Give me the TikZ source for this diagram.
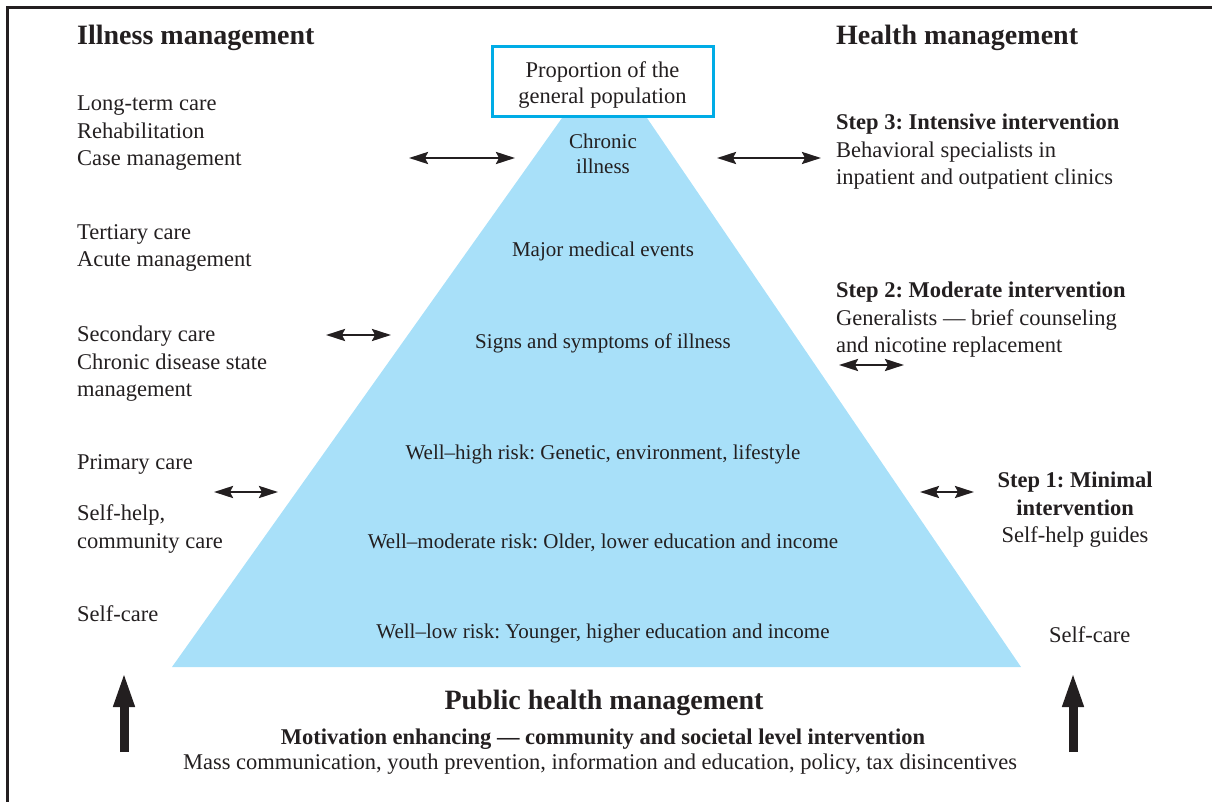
\documentclass[tikz,border=0pt]{standalone}
\usepackage{fontspec}
\setmainfont{Liberation Serif}
\usetikzlibrary{arrows.meta}
\frenchspacing
\definecolor{pyrblue}{RGB}{168,224,249}
\definecolor{popcyan}{RGB}{0,172,230}
\definecolor{ink}{RGB}{35,31,32}
\tikzset{
  sidetext/.style={anchor=north west, inner sep=0pt, align=left, text=ink, font=\fontsize{22.5}{27.5}\selectfont},
  sideline/.style={sidetext, anchor=base west},
  headtext/.style={anchor=base west, inner sep=0pt, text=ink, font=\fontsize{28}{32}\selectfont\bfseries},
  pyrtext/.style={anchor=base, inner sep=0pt, align=center, text=ink, font=\fontsize{21}{25}\selectfont},
  popbox/.style={draw=popcyan, line width=3pt, fill=white, minimum width=221pt, minimum height=70pt, inner sep=0pt},
  twoway/.style={{Stealth[length=19pt,width=12pt,inset=3pt]}-{Stealth[length=19pt,width=12pt,inset=3pt]}, line width=2.6pt, draw=ink},
  bigup/.style={-{Triangle[length=36pt,width=19pt]}, line width=9pt, draw=ink},
}
\begin{document}
\begin{tikzpicture}[x=1pt,y=-1pt]
    \useasboundingbox (0,0) rectangle (1212,802);
    \draw[line width=3pt, ink] (7.5,7.5) rectangle (1240,830);
    \fill[pyrblue] (172,667) -- (562,118) -- (647,118) -- (1021,667) -- cycle;
    \node[popbox] (pop) at (602.5,81.5) {};
    \node[sidetext, anchor=north, align=center] (poptext) at (602.5,61.7) {Proportion of the\\[-1.5pt]general population};

    \node[headtext] (illhead) at (77,45) {Illness management};
    \node[sidetext] (longterm) at (77,95.7) {Long-term care\\Rehabilitation\\Case management};
    \node[sidetext] (tertiary) at (77,224) {Tertiary care\\Acute management};
    \node[sidetext] (secondary) at (77,325.7) {Secondary care\\Chronic disease state\\management};
    \node[sideline] (primary) at (77,469) {Primary care};
    \node[sidetext] (selfhelp) at (77,504.7) {Self-help,\\community care};
    \node[sideline] (selfleft) at (77,621) {Self-care};

    \node[headtext] (healthhead) at (836,45) {Health management};
    \node[sidetext] (stepthree) at (836,113.7) {\textbf{Step 3: Intensive intervention}\\Behavioral specialists in\\inpatient and outpatient clinics};
    \node[sidetext] (steptwo) at (836,281.7) {\textbf{Step 2: Moderate intervention}\\Generalists — brief counseling\\and nicotine replacement};
    \node[sidetext, anchor=north, align=center] (stepone) at (1075,471.7) {\textbf{Step 1: Minimal}\\\textbf{intervention}\\Self-help guides};
    \node[sideline] (selfright) at (1049,642) {Self-care};

    \node[pyrtext, anchor=north] (chronic) at (603,133.7) {Chronic\\illness};
    \node[pyrtext] (major) at (603,257) {Major medical events};
    \node[pyrtext] (signs) at (603,348) {Signs and symptoms of illness};
    \node[pyrtext] (wellhigh) at (603,459) {Well–high risk: Genetic, environment, lifestyle};
    \node[pyrtext] (wellmod) at (603,548) {Well–moderate risk: Older, lower education and income};
    \node[pyrtext] (welllow) at (603,638) {Well–low risk: Younger, higher education and income};

    \node[headtext, anchor=base] (pubhead) at (604,709) {Public health management};
    \node[sideline, anchor=base, font=\fontsize{22.5}{27.5}\selectfont\bfseries] (motiv) at (603,744) {Motivation enhancing — community and societal level intervention};
    \node[sideline, anchor=base] (mass) at (600,769) {Mass communication, youth prevention, information and education, policy, tax disincentives};

    \coordinate (la) at (409,158);
    \coordinate (lb) at (515,158);
    \coordinate (ra) at (717,158);
    \coordinate (rb) at (821,158);
    \coordinate (lc) at (326,335);
    \coordinate (ld) at (391,335);
    \coordinate (rc) at (839,365);
    \coordinate (rd) at (904,365);
    \coordinate (le) at (214,492);
    \coordinate (lf) at (278,492);
    \coordinate (re) at (920,492);
    \coordinate (rf) at (974,492);
    \draw[twoway] (la) -- (lb);
    \draw[twoway] (ra) -- (rb);
    \draw[twoway] (lc) -- (ld);
    \draw[twoway] (rc) -- (rd);
    \draw[twoway] (le) -- (lf);
    \draw[twoway] (re) -- (rf);

    \coordinate (upla) at (124,752);
    \coordinate (uplb) at (124,671);
    \coordinate (upra) at (1073,752);
    \coordinate (uprb) at (1073,671);
    \draw[bigup] (upla) -- (uplb);
    \draw[bigup] (upra) -- (uprb);
\end{tikzpicture}
\end{document}
